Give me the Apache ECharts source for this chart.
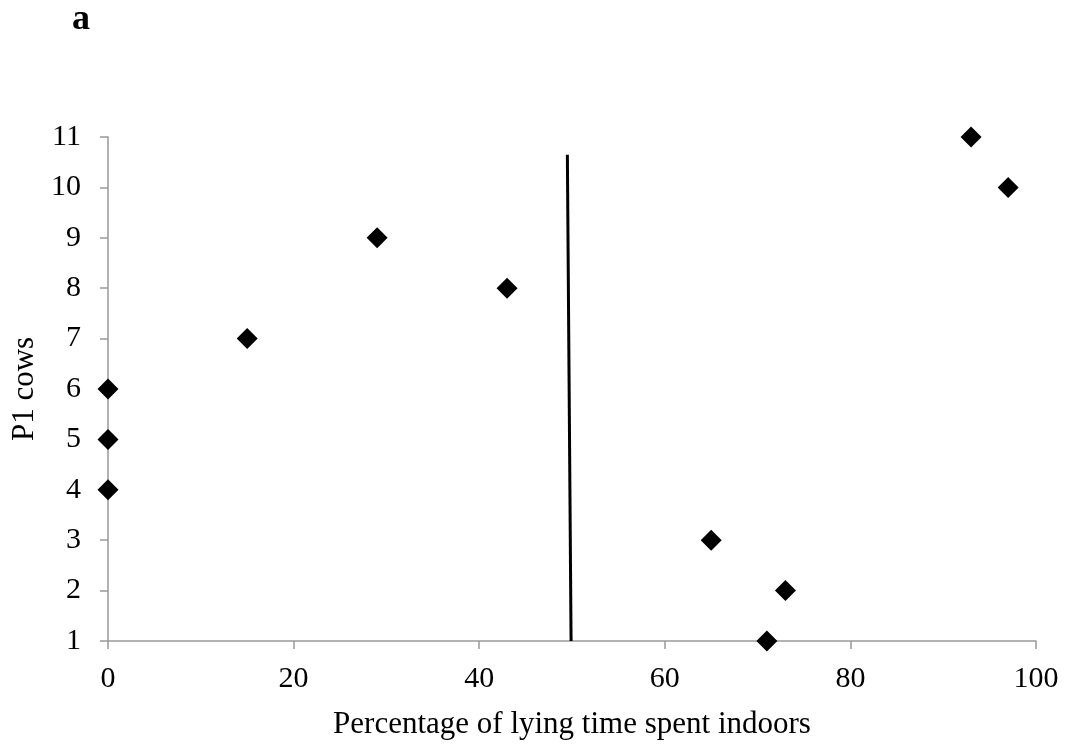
<!DOCTYPE html>
<html><head><meta charset="utf-8">
<script src="https://cdn.jsdelivr.net/npm/echarts@6/dist/echarts.min.js"></script>
<style>html,body{margin:0;padding:0;background:#fff}#c{width:1072px;height:747px}</style>
</head><body><div id="c"></div>
<script>
const xValues = [0, 0, 0, 15, 29, 43, 65, 73, 71, 93, 97];
const yValues = [4, 5, 6, 7, 9, 8, 3, 2, 1, 11, 10];
const lineX = [49.5, 49.9];
const lineY = [10.65, 1];
const xTicks = [0, 20, 40, 60, 80, 100];
const yTicks = [1,2,3,4,5,6,7,8,9,10,11];

const chart = echarts.init(document.getElementById('c'));
const font = 'Liberation Serif, Times New Roman, serif';
chart.setOption({
  animation: false,
  backgroundColor: '#fff',
  title: { text: 'a', left: 67, top: -3, textStyle: { fontFamily: font, fontSize: 36, fontWeight: 'bold', color: '#000' } },
  grid: { left: 108, right: 36, top: 137, bottom: 106, containLabel: false, outerBoundsMode: 'none' },
  xAxis: {
    type: 'value', min: 0, max: 100, interval: 20,
    name: 'Percentage of lying time spent indoors', nameLocation: 'middle', nameGap: 68,
    nameTextStyle: { fontFamily: font, fontSize: 31, color: '#000' },
    axisLine: { show: true, lineStyle: { color: '#999', width: 1.5 } },
    axisTick: { show: true, length: 8, lineStyle: { color: '#999', width: 1.5 } },
    axisLabel: { fontFamily: font, fontSize: 30, color: '#000', margin: 23,
      formatter: v => xTicks.includes(v) ? String(v) : '' },
    splitLine: { show: false }
  },
  yAxis: {
    type: 'value', min: 1, max: 11, interval: 1,
    name: 'P1 cows', nameLocation: 'middle', nameGap: 67,
    nameTextStyle: { fontFamily: font, fontSize: 31, color: '#000' },
    axisLine: { show: true, lineStyle: { color: '#999', width: 1.5 } },
    axisTick: { show: true, length: 8, lineStyle: { color: '#999', width: 1.5 } },
    axisLabel: { fontFamily: font, fontSize: 30, color: '#000', margin: 27,
      formatter: v => yTicks.includes(v) ? String(v) : '' },
    splitLine: { show: false }
  },
  series: [
    {
      type: 'line', data: lineX.map((x, i) => [x, lineY[i]]), symbol: 'none',
      lineStyle: { color: '#000', width: 3 }, z: 1
    },
    {
      type: 'scatter', data: xValues.map((x, i) => [x, yValues[i]]),
      symbol: 'diamond', symbolSize: [21, 21],
      itemStyle: { color: '#000', opacity: 1 }, z: 3
    }
  ]
});
</script></body></html>
